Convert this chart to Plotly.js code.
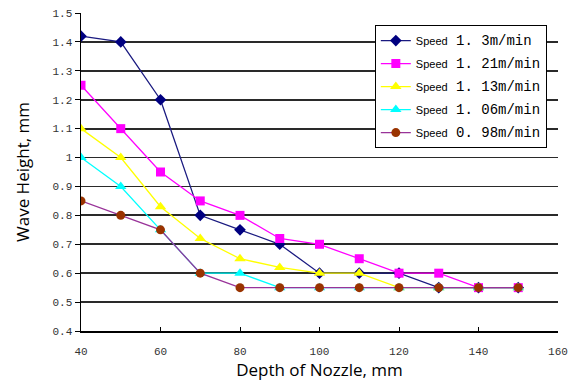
<!DOCTYPE html>
<html>
<head>
<meta charset="utf-8">
<script src="https://cdn.plot.ly/plotly-3.0.1.min.js"></script>
<style>html,body{margin:0;padding:0;background:#fff;}#chart{width:571px;height:392px;}</style>
</head>
<body>
<div id="chart"></div>
<script>
const depth = [40, 50, 60, 70, 80, 90, 100, 110, 120, 130, 140, 150];
const speedLabels = ["1. 3m/min", "1. 21m/min", "1. 13m/min", "1. 06m/min", "0. 98m/min"];
const h130 = [1.42, 1.40, 1.20, 0.80, 0.75, 0.70, 0.60, 0.60, 0.60, 0.55, 0.55, 0.55];
const h121 = [1.25, 1.10, 0.95, 0.85, 0.80, 0.72, 0.70, 0.65, 0.60, 0.60, 0.55, 0.55];
const h113 = [1.10, 1.00, 0.83, 0.72, 0.65, 0.62, 0.60, 0.60, 0.55, 0.55, 0.55, 0.55];
const h106 = [1.00, 0.90, 0.75, 0.60, 0.60, 0.55, 0.55, 0.55, 0.55, 0.55, 0.55, 0.55];
const h098 = [0.85, 0.80, 0.75, 0.60, 0.55, 0.55, 0.55, 0.55, 0.55, 0.55, 0.55, 0.55];
const yTicks = [0.4, 0.5, 0.6, 0.7, 0.8, 0.9, 1, 1.1, 1.2, 1.3, 1.4, 1.5];
const xTicks = [40, 60, 80, 100, 120, 140, 160];

const series = [h130, h121, h113, h106, h098];
const styles = [
  {line: '#1a1a80', marker: '#000080', symbol: 'diamond', size: 9},
  {line: '#FF00FF', marker: '#FF00FF', symbol: 'square', size: 9},
  {line: '#FFFF00', marker: '#FFFF00', symbol: 'triangle-up', size: 10},
  {line: '#00FFFF', marker: '#00FFFF', symbol: 'triangle-up', size: 10},
  {line: '#993399', marker: '#993300', symbol: 'circle', size: 9}
];

const traces = series.map((ys, i) => ({
  x: depth, y: ys, type: 'scatter', mode: 'lines+markers',
  name: 'Speed<span style="font-family:\'Liberation Mono\';font-size:14px">&nbsp;' + speedLabels[i] + '</span>',
  legendgroup: 'g' + i,
  line: {color: styles[i].line, width: 1.3},
  marker: {color: styles[i].marker, symbol: styles[i].symbol, size: styles[i].size}
}));

const layout = {
  width: 571, height: 392,
  margin: {l: 81, r: 13, t: 13, b: 61},
  paper_bgcolor: '#fff', plot_bgcolor: '#fff',
  font: {family: 'Liberation Sans, Arial, sans-serif', color: '#000'},
  showlegend: true,
  legend: {
    x: 0.616, y: 0.962, xanchor: 'left', yanchor: 'top',
    bgcolor: '#fff', bordercolor: '#000', borderwidth: 1,
    font: {size: 11, color: '#000', family: 'Liberation Sans, Arial, sans-serif'},
    tracegroupgap: 4
  },
  xaxis: {
    range: [40, 160], tickvals: xTicks, ticktext: xTicks.map(String),
    showgrid: false, zeroline: false, showline: true, linecolor: '#000', linewidth: 1.5,
    ticks: 'inside', ticklen: 4, tickcolor: '#000', ticklabelstandoff: 9,
    tickfont: {family: 'Liberation Mono, monospace', size: 11, color: '#333'},
    title: {text: 'Depth of Nozzle, mm', font: {family: 'Open Sans, sans-serif', size: 17, color: '#000'}, standoff: 3}
  },
  yaxis: {
    range: [0.4, 1.5], tickvals: yTicks, ticktext: yTicks.map(String),
    showgrid: true, gridcolor: '#2a2a2a', gridwidth: 1.8,
    zeroline: false, showline: true, linecolor: '#000', linewidth: 1.5,
    ticks: 'outside', ticklen: 5, tickcolor: '#000',
    tickfont: {family: 'Liberation Mono, monospace', size: 11, color: '#333'},
    title: {text: 'Wave Height, mm', font: {family: 'Open Sans, sans-serif', size: 17, color: '#000'}, standoff: 18}
  }
};

Plotly.newPlot('chart', traces, layout, {displayModeBar: false, staticPlot: true});
</script>
</body>
</html>
